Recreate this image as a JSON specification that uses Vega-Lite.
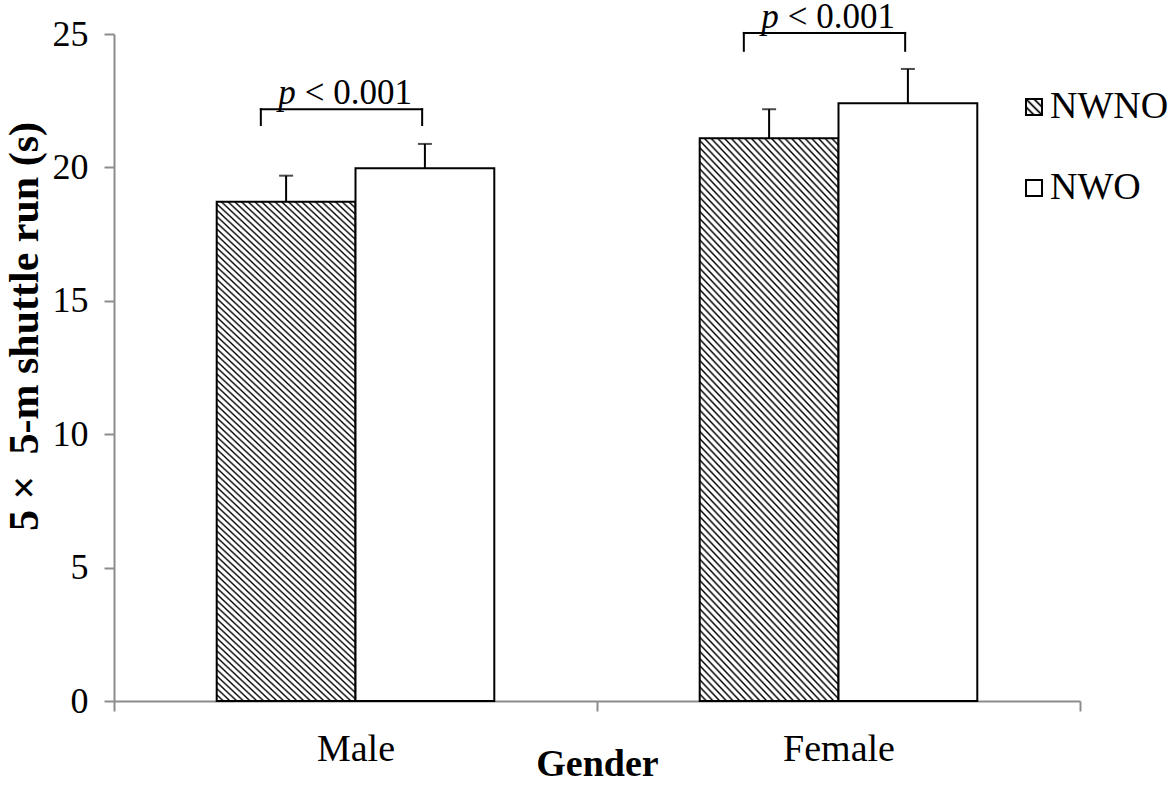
{
 "$schema": "https://vega.github.io/schema/vega-lite/v6.json",
 "width": 966,
 "height": 667,
 "autosize": "none",
 "padding": {"left": 114, "top": 34, "right": 95, "bottom": 86},
 "background": "white",
 "config": {"view": {"stroke": null}, "font": "Liberation Serif"},
 "params": [
  {"name": "hatchLegend", "value": {"gradient": "linear", "x1": 0, "y1": 1, "x2": 1, "y2": 0, "stops": [{"offset":0,"color":"#000"},{"offset":0.075,"color":"#fff"},{"offset":0.175,"color":"#fff"},{"offset":0.25,"color":"#000"},{"offset":0.325,"color":"#fff"},{"offset":0.425,"color":"#fff"},{"offset":0.5,"color":"#000"},{"offset":0.575,"color":"#fff"},{"offset":0.675,"color":"#fff"},{"offset":0.75,"color":"#000"},{"offset":0.825,"color":"#fff"},{"offset":0.925,"color":"#fff"},{"offset":1,"color":"#000"}]}}
 ],
 "datasets": {
  "bars": [
   {"gender": "Male", "group": "NWNO", "mean": 18.71, "upper": 19.69},
   {"gender": "Male", "group": "NWO", "mean": 19.97, "upper": 20.88},
   {"gender": "Female", "group": "NWNO", "mean": 21.09, "upper": 22.18},
   {"gender": "Female", "group": "NWO", "mean": 22.40, "upper": 23.69}
  ],
  "brackets": [
   {"gender": "Male", "top": 22.18, "low": 21.59},
   {"gender": "Female", "top": 25.04, "low": 24.37}
  ]
 },
 "layer": [
  {
   "data": {"name": "bars"},
   "mark": {"type": "bar", "stroke": "black", "strokeWidth": 2},
   "encoding": {
    "x": {"field": "gender", "type": "nominal", "sort": ["Male", "Female"],
     "scale": {"paddingInner": 0, "paddingOuter": 0},
     "axis": {"title": "Gender", "titleFont": "Liberation Serif", "titleFontWeight": "bold", "titleFontSize": 38, "titleColor": "black", "titleBaseline": "alphabetic", "titleY": 74,
      "labelFont": "Liberation Serif", "labelFontSize": 38, "labelColor": "black", "labelAngle": 0, "labelBaseline": "alphabetic", "labelPadding": 49,
      "tickBand": "extent", "tickSize": 10, "tickColor": "#8c8c8c", "tickWidth": 2, "domainColor": "#8c8c8c", "domainWidth": 2, "grid": false}},
    "xOffset": {"field": "group", "type": "nominal", "sort": ["NWNO", "NWO"], "scale": {"paddingInner": 0, "paddingOuter": 0.74}},
    "y": {"field": "mean", "type": "quantitative", "scale": {"domain": [0, 25], "nice": false},
     "axis": {"title": "5 ×\u00a0 5-m shuttle run (s)", "values": [0, 5, 10, 15, 20, 25], "titleFont": "Liberation Serif", "titleFontWeight": "bold", "titleFontSize": 42, "titleColor": "black", "titleX": -90, "titleY": 292, "titleAlign": "center", "titleBaseline": "middle",
      "labelFont": "Liberation Serif", "labelFontSize": 36, "labelColor": "black", "labelPadding": 16,
      "tickSize": 10, "tickColor": "#8c8c8c", "tickWidth": 2, "domainColor": "#8c8c8c", "domainWidth": 2, "grid": false}},
    "fill": {
     "condition": {"test": "datum.group === 'NWNO'", "value": {"gradient": "linear", "x1": 0, "y1": 1, "x2": 0.308, "y2": -0.1806, "stops": [
{"offset":0,"color":"#000"},{"offset":0.003,"color":"#fff"},{"offset":0.007,"color":"#fff"},
{"offset":0.01,"color":"#000"},{"offset":0.013,"color":"#fff"},{"offset":0.017,"color":"#fff"},
{"offset":0.02,"color":"#000"},{"offset":0.023,"color":"#fff"},{"offset":0.027,"color":"#fff"},
{"offset":0.03,"color":"#000"},{"offset":0.033,"color":"#fff"},{"offset":0.037,"color":"#fff"},
{"offset":0.04,"color":"#000"},{"offset":0.043,"color":"#fff"},{"offset":0.047,"color":"#fff"},
{"offset":0.05,"color":"#000"},{"offset":0.053,"color":"#fff"},{"offset":0.057,"color":"#fff"},
{"offset":0.06,"color":"#000"},{"offset":0.063,"color":"#fff"},{"offset":0.067,"color":"#fff"},
{"offset":0.07,"color":"#000"},{"offset":0.073,"color":"#fff"},{"offset":0.077,"color":"#fff"},
{"offset":0.08,"color":"#000"},{"offset":0.083,"color":"#fff"},{"offset":0.087,"color":"#fff"},
{"offset":0.09,"color":"#000"},{"offset":0.093,"color":"#fff"},{"offset":0.097,"color":"#fff"},
{"offset":0.1,"color":"#000"},{"offset":0.103,"color":"#fff"},{"offset":0.107,"color":"#fff"},
{"offset":0.11,"color":"#000"},{"offset":0.113,"color":"#fff"},{"offset":0.117,"color":"#fff"},
{"offset":0.12,"color":"#000"},{"offset":0.123,"color":"#fff"},{"offset":0.127,"color":"#fff"},
{"offset":0.13,"color":"#000"},{"offset":0.133,"color":"#fff"},{"offset":0.137,"color":"#fff"},
{"offset":0.14,"color":"#000"},{"offset":0.143,"color":"#fff"},{"offset":0.147,"color":"#fff"},
{"offset":0.15,"color":"#000"},{"offset":0.153,"color":"#fff"},{"offset":0.157,"color":"#fff"},
{"offset":0.16,"color":"#000"},{"offset":0.163,"color":"#fff"},{"offset":0.167,"color":"#fff"},
{"offset":0.17,"color":"#000"},{"offset":0.173,"color":"#fff"},{"offset":0.177,"color":"#fff"},
{"offset":0.18,"color":"#000"},{"offset":0.183,"color":"#fff"},{"offset":0.187,"color":"#fff"},
{"offset":0.19,"color":"#000"},{"offset":0.193,"color":"#fff"},{"offset":0.197,"color":"#fff"},
{"offset":0.2,"color":"#000"},{"offset":0.203,"color":"#fff"},{"offset":0.207,"color":"#fff"},
{"offset":0.21,"color":"#000"},{"offset":0.213,"color":"#fff"},{"offset":0.217,"color":"#fff"},
{"offset":0.22,"color":"#000"},{"offset":0.223,"color":"#fff"},{"offset":0.227,"color":"#fff"},
{"offset":0.23,"color":"#000"},{"offset":0.233,"color":"#fff"},{"offset":0.237,"color":"#fff"},
{"offset":0.24,"color":"#000"},{"offset":0.243,"color":"#fff"},{"offset":0.247,"color":"#fff"},
{"offset":0.25,"color":"#000"},{"offset":0.253,"color":"#fff"},{"offset":0.257,"color":"#fff"},
{"offset":0.26,"color":"#000"},{"offset":0.263,"color":"#fff"},{"offset":0.267,"color":"#fff"},
{"offset":0.27,"color":"#000"},{"offset":0.273,"color":"#fff"},{"offset":0.277,"color":"#fff"},
{"offset":0.28,"color":"#000"},{"offset":0.283,"color":"#fff"},{"offset":0.287,"color":"#fff"},
{"offset":0.29,"color":"#000"},{"offset":0.293,"color":"#fff"},{"offset":0.297,"color":"#fff"},
{"offset":0.3,"color":"#000"},{"offset":0.303,"color":"#fff"},{"offset":0.307,"color":"#fff"},
{"offset":0.31,"color":"#000"},{"offset":0.313,"color":"#fff"},{"offset":0.317,"color":"#fff"},
{"offset":0.32,"color":"#000"},{"offset":0.323,"color":"#fff"},{"offset":0.327,"color":"#fff"},
{"offset":0.33,"color":"#000"},{"offset":0.333,"color":"#fff"},{"offset":0.337,"color":"#fff"},
{"offset":0.34,"color":"#000"},{"offset":0.343,"color":"#fff"},{"offset":0.347,"color":"#fff"},
{"offset":0.35,"color":"#000"},{"offset":0.353,"color":"#fff"},{"offset":0.357,"color":"#fff"},
{"offset":0.36,"color":"#000"},{"offset":0.363,"color":"#fff"},{"offset":0.367,"color":"#fff"},
{"offset":0.37,"color":"#000"},{"offset":0.373,"color":"#fff"},{"offset":0.377,"color":"#fff"},
{"offset":0.38,"color":"#000"},{"offset":0.383,"color":"#fff"},{"offset":0.387,"color":"#fff"},
{"offset":0.39,"color":"#000"},{"offset":0.393,"color":"#fff"},{"offset":0.397,"color":"#fff"},
{"offset":0.4,"color":"#000"},{"offset":0.403,"color":"#fff"},{"offset":0.407,"color":"#fff"},
{"offset":0.41,"color":"#000"},{"offset":0.413,"color":"#fff"},{"offset":0.417,"color":"#fff"},
{"offset":0.42,"color":"#000"},{"offset":0.423,"color":"#fff"},{"offset":0.427,"color":"#fff"},
{"offset":0.43,"color":"#000"},{"offset":0.433,"color":"#fff"},{"offset":0.437,"color":"#fff"},
{"offset":0.44,"color":"#000"},{"offset":0.443,"color":"#fff"},{"offset":0.447,"color":"#fff"},
{"offset":0.45,"color":"#000"},{"offset":0.453,"color":"#fff"},{"offset":0.457,"color":"#fff"},
{"offset":0.46,"color":"#000"},{"offset":0.463,"color":"#fff"},{"offset":0.467,"color":"#fff"},
{"offset":0.47,"color":"#000"},{"offset":0.473,"color":"#fff"},{"offset":0.477,"color":"#fff"},
{"offset":0.48,"color":"#000"},{"offset":0.483,"color":"#fff"},{"offset":0.487,"color":"#fff"},
{"offset":0.49,"color":"#000"},{"offset":0.493,"color":"#fff"},{"offset":0.497,"color":"#fff"},
{"offset":0.5,"color":"#000"},{"offset":0.503,"color":"#fff"},{"offset":0.507,"color":"#fff"},
{"offset":0.51,"color":"#000"},{"offset":0.513,"color":"#fff"},{"offset":0.517,"color":"#fff"},
{"offset":0.52,"color":"#000"},{"offset":0.523,"color":"#fff"},{"offset":0.527,"color":"#fff"},
{"offset":0.53,"color":"#000"},{"offset":0.533,"color":"#fff"},{"offset":0.537,"color":"#fff"},
{"offset":0.54,"color":"#000"},{"offset":0.543,"color":"#fff"},{"offset":0.547,"color":"#fff"},
{"offset":0.55,"color":"#000"},{"offset":0.553,"color":"#fff"},{"offset":0.557,"color":"#fff"},
{"offset":0.56,"color":"#000"},{"offset":0.563,"color":"#fff"},{"offset":0.567,"color":"#fff"},
{"offset":0.57,"color":"#000"},{"offset":0.573,"color":"#fff"},{"offset":0.577,"color":"#fff"},
{"offset":0.58,"color":"#000"},{"offset":0.583,"color":"#fff"},{"offset":0.587,"color":"#fff"},
{"offset":0.59,"color":"#000"},{"offset":0.593,"color":"#fff"},{"offset":0.597,"color":"#fff"},
{"offset":0.6,"color":"#000"},{"offset":0.603,"color":"#fff"},{"offset":0.607,"color":"#fff"},
{"offset":0.61,"color":"#000"},{"offset":0.613,"color":"#fff"},{"offset":0.617,"color":"#fff"},
{"offset":0.62,"color":"#000"},{"offset":0.623,"color":"#fff"},{"offset":0.627,"color":"#fff"},
{"offset":0.63,"color":"#000"},{"offset":0.633,"color":"#fff"},{"offset":0.637,"color":"#fff"},
{"offset":0.64,"color":"#000"},{"offset":0.643,"color":"#fff"},{"offset":0.647,"color":"#fff"},
{"offset":0.65,"color":"#000"},{"offset":0.653,"color":"#fff"},{"offset":0.657,"color":"#fff"},
{"offset":0.66,"color":"#000"},{"offset":0.663,"color":"#fff"},{"offset":0.667,"color":"#fff"},
{"offset":0.67,"color":"#000"},{"offset":0.673,"color":"#fff"},{"offset":0.677,"color":"#fff"},
{"offset":0.68,"color":"#000"},{"offset":0.683,"color":"#fff"},{"offset":0.687,"color":"#fff"},
{"offset":0.69,"color":"#000"},{"offset":0.693,"color":"#fff"},{"offset":0.697,"color":"#fff"},
{"offset":0.7,"color":"#000"},{"offset":0.703,"color":"#fff"},{"offset":0.707,"color":"#fff"},
{"offset":0.71,"color":"#000"},{"offset":0.713,"color":"#fff"},{"offset":0.717,"color":"#fff"},
{"offset":0.72,"color":"#000"},{"offset":0.723,"color":"#fff"},{"offset":0.727,"color":"#fff"},
{"offset":0.73,"color":"#000"},{"offset":0.733,"color":"#fff"},{"offset":0.737,"color":"#fff"},
{"offset":0.74,"color":"#000"},{"offset":0.743,"color":"#fff"},{"offset":0.747,"color":"#fff"},
{"offset":0.75,"color":"#000"},{"offset":0.753,"color":"#fff"},{"offset":0.757,"color":"#fff"},
{"offset":0.76,"color":"#000"},{"offset":0.763,"color":"#fff"},{"offset":0.767,"color":"#fff"},
{"offset":0.77,"color":"#000"},{"offset":0.773,"color":"#fff"},{"offset":0.777,"color":"#fff"},
{"offset":0.78,"color":"#000"},{"offset":0.783,"color":"#fff"},{"offset":0.787,"color":"#fff"},
{"offset":0.79,"color":"#000"},{"offset":0.793,"color":"#fff"},{"offset":0.797,"color":"#fff"},
{"offset":0.8,"color":"#000"},{"offset":0.803,"color":"#fff"},{"offset":0.807,"color":"#fff"},
{"offset":0.81,"color":"#000"},{"offset":0.813,"color":"#fff"},{"offset":0.817,"color":"#fff"},
{"offset":0.82,"color":"#000"},{"offset":0.823,"color":"#fff"},{"offset":0.827,"color":"#fff"},
{"offset":0.83,"color":"#000"},{"offset":0.833,"color":"#fff"},{"offset":0.837,"color":"#fff"},
{"offset":0.84,"color":"#000"},{"offset":0.843,"color":"#fff"},{"offset":0.847,"color":"#fff"},
{"offset":0.85,"color":"#000"},{"offset":0.853,"color":"#fff"},{"offset":0.857,"color":"#fff"},
{"offset":0.86,"color":"#000"},{"offset":0.863,"color":"#fff"},{"offset":0.867,"color":"#fff"},
{"offset":0.87,"color":"#000"},{"offset":0.873,"color":"#fff"},{"offset":0.877,"color":"#fff"},
{"offset":0.88,"color":"#000"},{"offset":0.883,"color":"#fff"},{"offset":0.887,"color":"#fff"},
{"offset":0.89,"color":"#000"},{"offset":0.893,"color":"#fff"},{"offset":0.897,"color":"#fff"},
{"offset":0.9,"color":"#000"},{"offset":0.903,"color":"#fff"},{"offset":0.907,"color":"#fff"},
{"offset":0.91,"color":"#000"},{"offset":0.913,"color":"#fff"},{"offset":0.917,"color":"#fff"},
{"offset":0.92,"color":"#000"},{"offset":0.923,"color":"#fff"},{"offset":0.927,"color":"#fff"},
{"offset":0.93,"color":"#000"},{"offset":0.933,"color":"#fff"},{"offset":0.937,"color":"#fff"},
{"offset":0.94,"color":"#000"},{"offset":0.943,"color":"#fff"},{"offset":0.947,"color":"#fff"},
{"offset":0.95,"color":"#000"},{"offset":0.953,"color":"#fff"},{"offset":0.957,"color":"#fff"},
{"offset":0.96,"color":"#000"},{"offset":0.963,"color":"#fff"},{"offset":0.967,"color":"#fff"},
{"offset":0.97,"color":"#000"},{"offset":0.973,"color":"#fff"},{"offset":0.977,"color":"#fff"},
{"offset":0.98,"color":"#000"},{"offset":0.983,"color":"#fff"},{"offset":0.987,"color":"#fff"},
{"offset":0.99,"color":"#000"},{"offset":0.993,"color":"#fff"},{"offset":0.997,"color":"#fff"},
{"offset":1,"color":"#000"}
     ]}},
     "field": "group", "type": "nominal",
     "scale": {"domain": ["NWNO", "NWO"], "range": [{"expr": "hatchLegend"}, "white"]},
     "legend": {"title": null, "orient": "none", "legendX": 901, "legendY": 54, "padding": 0, "symbolType": "square", "symbolSize": 256, "symbolStrokeColor": "black", "symbolStrokeWidth": 2, "labelFont": "Liberation Serif", "labelFontSize": 38, "labelColor": "black", "labelOffset": -3, "rowPadding": 43}
    }
   }
  },
  {
   "data": {"name": "bars"},
   "mark": {"type": "rule", "color": "black", "strokeWidth": 2},
   "encoding": {
    "x": {"field": "gender", "type": "nominal", "sort": ["Male", "Female"]},
    "xOffset": {"field": "group", "type": "nominal", "sort": ["NWNO", "NWO"]},
    "y": {"field": "mean", "type": "quantitative"},
    "y2": {"field": "upper"}
   }
  },
  {
   "data": {"name": "bars"},
   "mark": {"type": "tick", "color": "black", "thickness": 2, "size": 14, "orient": "horizontal"},
   "encoding": {
    "x": {"field": "gender", "type": "nominal", "sort": ["Male", "Female"]},
    "xOffset": {"field": "group", "type": "nominal", "sort": ["NWNO", "NWO"]},
    "y": {"field": "upper", "type": "quantitative"}
   }
  },
  {
   "data": {"name": "brackets"},
   "mark": {"type": "rule", "color": "black", "strokeWidth": 2, "strokeCap": "square"},
   "encoding": {
    "x": {"field": "gender", "type": "nominal", "sort": ["Male", "Female"], "bandPosition": 0.304},
    "y": {"field": "top", "type": "quantitative"},
    "y2": {"field": "low"}
   }
  },
  {
   "data": {"name": "brackets"},
   "mark": {"type": "rule", "color": "black", "strokeWidth": 2, "strokeCap": "square"},
   "encoding": {
    "x": {"field": "gender", "type": "nominal", "sort": ["Male", "Female"], "bandPosition": 0.638},
    "y": {"field": "top", "type": "quantitative"},
    "y2": {"field": "low"}
   }
  },
  {
   "data": {"name": "brackets"},
   "mark": {"type": "rule", "color": "black", "strokeWidth": 2, "strokeCap": "square"},
   "encoding": {
    "x": {"field": "gender", "type": "nominal", "sort": ["Male", "Female"], "bandPosition": 0.304},
    "x2": {"field": "gender", "bandPosition": 0.638},
    "y": {"field": "top", "type": "quantitative"}
   }
  },
  {
   "data": {"name": "brackets"},
   "mark": {"type": "text", "text": "p", "align": "left", "baseline": "alphabetic", "dy": -5, "font": "Liberation Serif", "fontStyle": "italic", "fontSize": 35, "color": "black"},
   "encoding": {
    "x": {"field": "gender", "type": "nominal", "sort": ["Male", "Female"], "bandPosition": 0.34},
    "y": {"field": "top", "type": "quantitative"}
   }
  },
  {
   "data": {"name": "brackets"},
   "mark": {"type": "text", "text": "< 0.001", "align": "right", "baseline": "alphabetic", "dy": -5, "font": "Liberation Serif", "fontSize": 35, "color": "black"},
   "encoding": {
    "x": {"field": "gender", "type": "nominal", "sort": ["Male", "Female"], "bandPosition": 0.617},
    "y": {"field": "top", "type": "quantitative"}
   }
  }
 ]
}
